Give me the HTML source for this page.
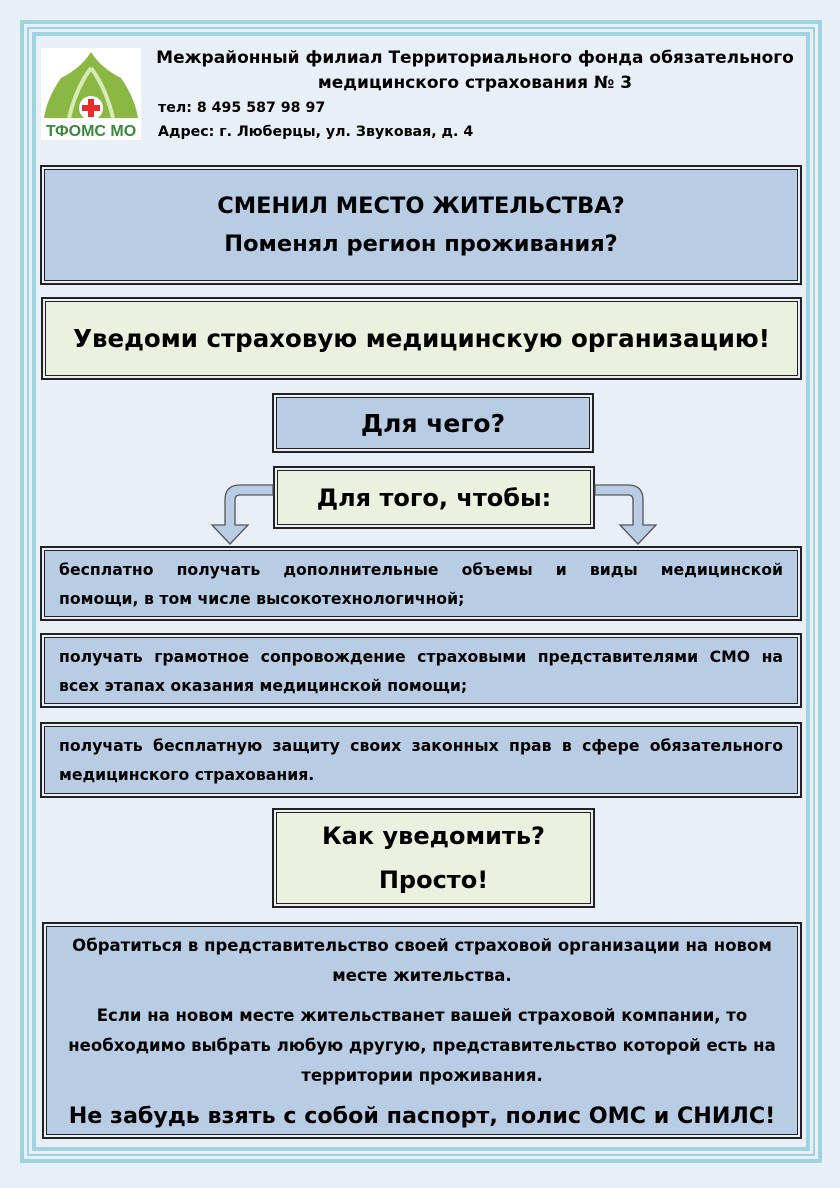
<!DOCTYPE html>
<html><head><meta charset="utf-8"><style>
body{margin:0;width:840px;height:1188px;background:#e9eff7;position:relative;font-family:"DejaVu Sans",sans-serif;font-weight:bold;overflow:hidden}
.a{position:absolute;box-sizing:border-box}
.fr1{left:20px;top:20px;width:802px;height:1143px;border:4px solid #9fd3df}
.fr2{left:27px;top:27px;width:788px;height:1129px;border:2px solid #9fd3df}
.fr3{left:32px;top:32px;width:778px;height:1119px;border:4px solid #9fd3df;background:#e9eff7}
.b{position:absolute;box-sizing:border-box;border:2px solid #222;padding:2px}
.b>div{width:100%;height:100%;box-sizing:border-box;border:1.5px solid #222;display:flex;flex-direction:column;justify-content:center;align-items:center;text-align:center}
.bl>div{background:#b8cce4}.gr>div{background:#ebf1de}
.j>div{align-items:stretch;padding:0 14px;font-size:15.7px;line-height:29px}
.jl{text-align:justify;text-align-last:justify}
.ll{text-align:left}
</style></head><body>
<div class="a fr1"></div><div class="a fr2"></div><div class="a fr3"></div>
<div class="a" style="left:41px;top:48px;width:100px;height:92px;background:#fff"></div>
<svg class="a" style="left:41px;top:48px" width="100" height="92">
<path d="M50 4 Q40 20 20 30 Q6 50 3 70 L97 70 Q94 50 80 30 Q60 20 50 4Z" fill="#8bb845"/>
<path d="M50 20 Q35 40 28 70 M50 20 Q65 40 72 70" stroke="#d8ebb5" stroke-width="4" fill="none"/>
<circle cx="50" cy="60" r="12" fill="#fff"/>
<rect x="47" y="51" width="6" height="18" fill="#e52d2d"/><rect x="41" y="57" width="18" height="6" fill="#e52d2d"/>
<text x="50" y="88" font-size="16" font-weight="bold" text-anchor="middle" fill="#3c8a3c" font-family="Liberation Sans">ТФОМС МО</text>
</svg>
<div class="a" style="left:150px;top:46px;width:650px;text-align:center;font-size:17px;line-height:25px">Межрайонный филиал Территориального фонда обязательного<br>медицинского страхования № 3</div>
<div class="a" style="left:158px;top:96px;font-size:14.2px;line-height:24px">тел: 8 495 587 98 97<br>Адрес: г. Люберцы, ул. Звуковая, д. 4</div>
<div class="b bl" style="left:40px;top:165px;width:762px;height:120px"><div style="font-size:22.5px;line-height:38px">СМЕНИЛ МЕСТО ЖИТЕЛЬСТВА?<br>Поменял регион проживания?</div></div>
<div class="b gr" style="left:41px;top:297px;width:761px;height:83px"><div style="font-size:24.5px">Уведоми страховую медицинскую организацию!</div></div>
<div class="b bl" style="left:272px;top:393px;width:322px;height:60px"><div style="font-size:25px">Для чего?</div></div>
<div class="b gr" style="left:273px;top:466px;width:322px;height:63px"><div style="font-size:24px">Для того, чтобы:</div></div>
<svg class="a" style="left:200px;top:480px" width="470" height="70">
<path d="M73 5 L40 5 Q25 5 25 20 L25 45 L12 45 L30 64 L48 45 L35 45 L35 20 Q35 15 40 15 L73 15Z" fill="#b8cce4" stroke="#555" stroke-width="1.3"/>
<path d="M395 5 L428 5 Q443 5 443 20 L443 45 L456 45 L438 64 L420 45 L433 45 L433 20 Q433 15 428 15 L395 15Z" fill="#b8cce4" stroke="#555" stroke-width="1.3"/>
</svg>
<div class="b bl j" style="left:40px;top:546px;width:762px;height:75px"><div><div class="jl">бесплатно получать дополнительные объемы и виды медицинской</div><div class="ll">помощи, в том числе высокотехнологичной;</div></div></div>
<div class="b bl j" style="left:40px;top:633px;width:762px;height:75px"><div><div class="jl">получать грамотное сопровождение страховыми представителями СМО на</div><div class="ll">всех этапах оказания медицинской помощи;</div></div></div>
<div class="b bl j" style="left:40px;top:722px;width:762px;height:76px"><div><div class="jl">получать бесплатную защиту своих законных прав в сфере обязательного</div><div class="ll">медицинского страхования.</div></div></div>
<div class="b gr" style="left:272px;top:808px;width:323px;height:100px"><div style="font-size:24px;line-height:44px">Как уведомить?<br>Просто!</div></div>
<div class="b bl" style="left:42px;top:922px;width:760px;height:217px"><div style="font-size:16.5px;line-height:30px;padding:0 4px">
<div>Обратиться в представительство своей страховой организации на новом<br>месте жительства.</div>
<div style="margin-top:10px">Если на новом месте жительстванет вашей страховой компании, то<br>необходимо выбрать любую другую, представительство которой есть на<br>территории проживания.</div>
<div style="font-size:22.2px;margin-top:10px;white-space:nowrap">Не забудь взять с собой паспорт, полис ОМС и СНИЛС!</div></div></div>
</body></html>
